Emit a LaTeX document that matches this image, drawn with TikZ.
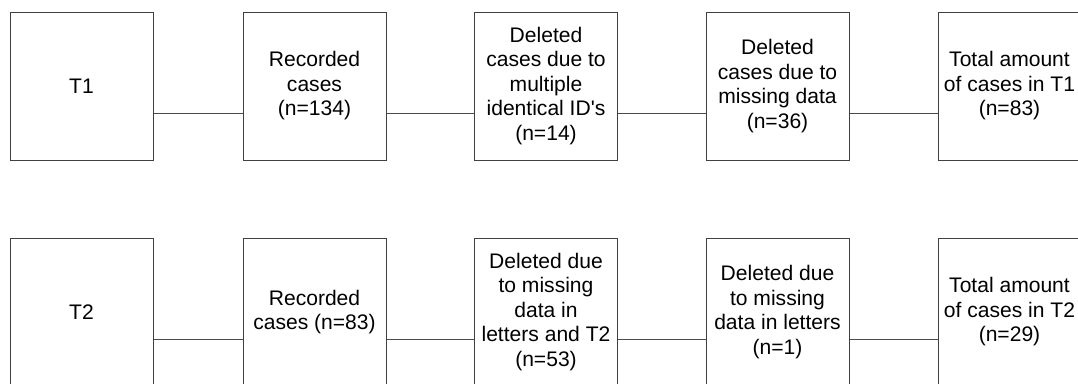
\documentclass[tikz,border=0pt]{standalone}
\usepackage{fontspec}
\setmainfont{Liberation Sans}
\usetikzlibrary{calc}
\tikzset{
  box/.style={draw=black!75, line width=0.75pt, rectangle, minimum width=107.25pt,
    minimum height=111pt, inner sep=1pt, align=center,
    font=\fontsize{15.8}{18.4}\selectfont},
  conn/.style={draw=black!70, line width=0.75pt}
}
\begin{document}
\begin{tikzpicture}[x=0.75pt, y=-0.75pt]
\useasboundingbox (0,0) rectangle (1078,383);
\clip (0,0) rectangle (1078,383);
% row 1
\node[box] (a1) at (81.5,86) {T1};
\node[box] (a2) at (314.5,86) {Recorded\\cases\\(n=134)};
\node[box] (a3) at (546,86) {Deleted\\cases due to\\multiple\\identical ID\textquotesingle s\\(n=14)};
\node[box] (a4) at (777.5,86) {Deleted\\cases due to\\missing data\\(n=36)};
\node[box] (a5) at (1009.5,86) {Total amount\\of cases in T1\\(n=83)};
% row 2
\node[box] (b1) at (81.5,312) {T2};
\node[box] (b2) at (314.5,312) {Recorded\\cases (n=83)};
\node[box] (b3) at (546,312) {Deleted due\\to missing\\data in\\letters and T2\\(n=53)};
\node[box] (b4) at (777.5,312) {Deleted due\\to missing\\data in letters\\(n=1)};
\node[box] (b5) at (1009.5,312) {Total amount\\of cases in T2\\(n=29)};
% connectors
\foreach \r in {a,b}{
  \draw[conn] ($(\r1.east)+(0,27)$) -- ($(\r2.west)+(0,27)$);
  \draw[conn] ($(\r2.east)+(0,27)$) -- ($(\r3.west)+(0,27)$);
  \draw[conn] ($(\r3.east)+(0,27)$) -- ($(\r4.west)+(0,27)$);
  \draw[conn] ($(\r4.east)+(0,27)$) -- ($(\r5.west)+(0,27)$);
}
\end{tikzpicture}
\end{document}
